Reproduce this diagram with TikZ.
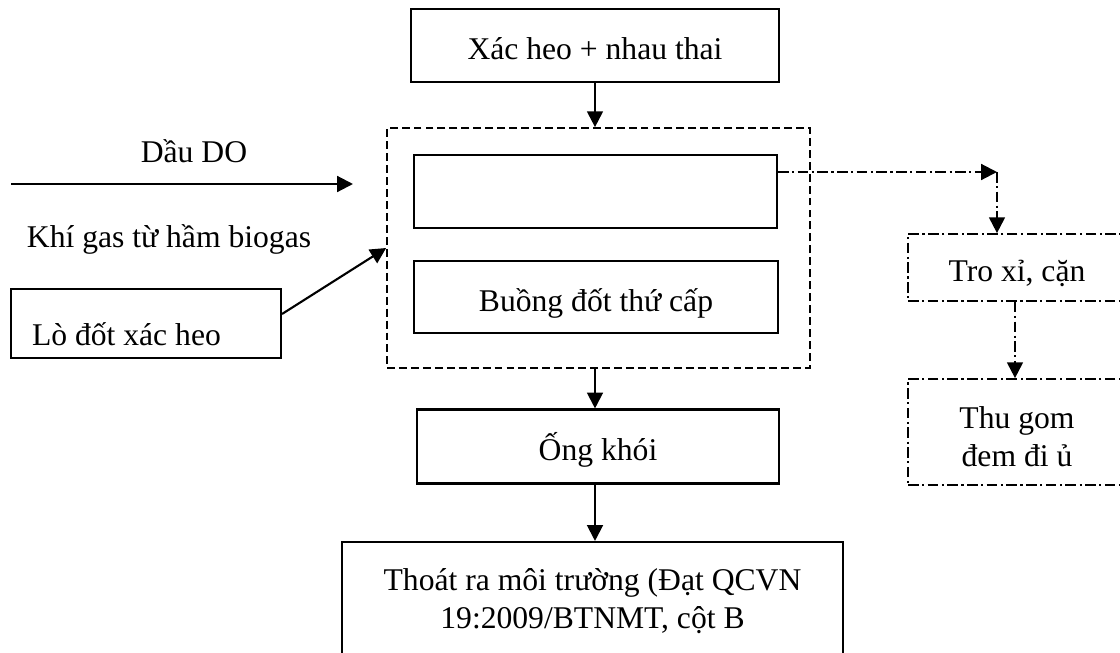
\documentclass[tikz,border=0pt]{standalone}
\usepackage{fontspec}
\setmainfont{Liberation Serif}
\usetikzlibrary{arrows.meta,calc}

\tikzset{
  box/.style={draw, line width=1.2pt, inner sep=0pt, align=center, text height=0.56cm, text depth=0pt},
  group/.style={draw, line width=1pt, dash pattern=on 4.5pt off 2.3pt, inner sep=0pt},
  dashbox/.style={box, line width=1pt, dash pattern=on 6pt off 2pt on 1.2pt off 2pt},
  flow/.style={line width=1.2pt, -{Triangle[length=9pt,width=9pt]}},
  dashflow/.style={flow, dash pattern=on 6pt off 2pt on 1.2pt off 2pt},
}

\begin{document}
\begin{tikzpicture}[x=0.02cm, y=-0.02cm, font=\fontsize{18}{21.6}\selectfont]
\useasboundingbox (0,0) rectangle (1120,653);
\clip (0,0) rectangle (1120,653);

% incinerator chamber with its two compartments
\node[group, minimum width=8.46cm, minimum height=4.8cm] (chamber) at (598.5,248) {};
\node[box, minimum width=7.26cm, minimum height=1.46cm] (primary) at (595.5,191.5) {};
\node[box, minimum width=7.28cm, minimum height=1.44cm] (secondary) at (596,297) {Buồng đốt thứ cấp};

% main line
\node[box, minimum width=7.36cm, minimum height=1.46cm] (input) at (595,45.5) {Xác heo + nhau thai};
\node[box, minimum width=7.24cm, minimum height=1.48cm] (stack) at (598,446.5) {Ống khói};
\node[box, minimum width=10.02cm, minimum height=2.32cm, text height=1.12cm] (outlet) at (592.5,600)
  {Thoát ra môi trường (Đạt QCVN\\19:2009/BTNMT, cột B};

\draw[flow] (input.south) -- (input.south |- chamber.north);
\draw[flow] (chamber.south -| input.south) -- (stack.north -| input.south);
\draw[flow] (stack.south -| input.south) -- (outlet.north -| input.south);

% fuel inputs
\node[anchor=base] (oil) at (194,162) {Dầu DO};
\coordinate (oilstart) at (11,184);
\coordinate (oilend) at (353,184);
\draw[flow] (oilstart) -- (oilend);

\node[anchor=base] (gas) at (169,247) {Khí gas từ hầm biogas};
\node[box, minimum width=5.4cm, minimum height=1.38cm, inner xsep=0.42cm, text width=4.56cm,
  align=flush left, text height=0.86cm] (furnace) at (146,323.5) {Lò đốt xác heo};
\draw[flow] ($(furnace.east)+(0,-9.5)$) -- (chamber.west);

% ash handling
\node[dashbox, minimum width=4.36cm, minimum height=1.34cm] (ash) at (1017,267.5) {Tro xỉ, cặn};
\node[dashbox, minimum width=4.36cm, minimum height=2.12cm, text height=1.38cm] (collect) at (1017,432)
  {Thu gom\\đem đi ủ};
\coordinate (ashturn) at (997,172);
\draw[dashflow] ($(primary.east)+(0,-19.5)$) -- (ashturn);
\draw[dashflow] (ashturn) -- (ashturn |- ash.north);
\draw[dashflow] ([xshift=-0.04cm]ash.south) -- ([xshift=-0.04cm]collect.north);
\end{tikzpicture}
\end{document}
